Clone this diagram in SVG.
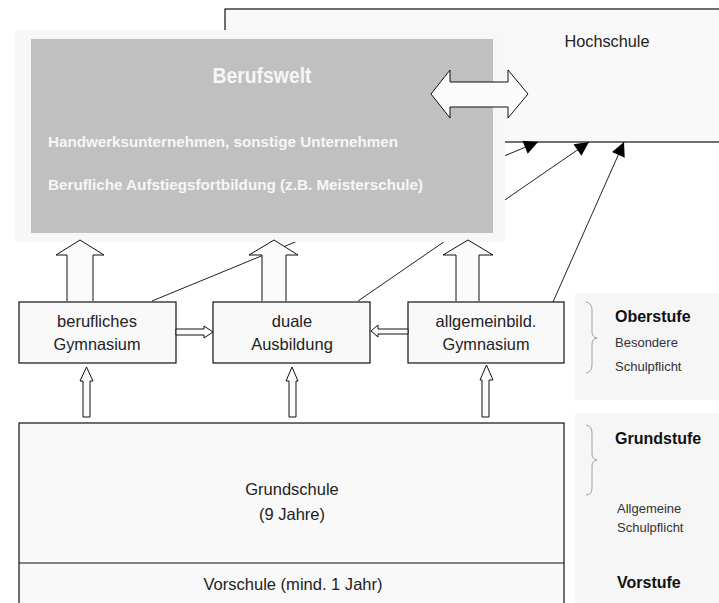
<svg xmlns="http://www.w3.org/2000/svg" width="719" height="603" viewBox="0 0 719 603">
<defs>
<style>
.box{fill:#f9f9f9;stroke:#111;stroke-width:1.2}
.arr{fill:#fbfbfb;stroke:#111;stroke-width:1}
.ln{stroke:#222;stroke-width:1;fill:none}
.t{font-family:"Liberation Sans",Arial,sans-serif;fill:#222}
.w{font-family:"Liberation Sans",Arial,sans-serif;fill:#f6f6f6;font-weight:bold}
.brace{fill:none;stroke:#999;stroke-width:0.9}
.lbl{font-family:"Liberation Sans",Arial,sans-serif;fill:#111;font-weight:bold;font-size:16px}
.sm{font-family:"Liberation Sans",Arial,sans-serif;fill:#333;font-size:13px}
</style>
<marker id="ah" viewBox="0 0 10 10" refX="10" refY="5" markerWidth="15" markerHeight="14" markerUnits="userSpaceOnUse" orient="auto"><path d="M0,0 L10,5 L0,10 z" fill="#000"/></marker>
</defs>
<rect width="719" height="603" fill="#ffffff"/>

<g id="hochschule">
<rect x="225" y="9" width="500" height="133" class="box"/>
<text class="t" x="607" y="47" font-size="16.5" text-anchor="middle" textLength="85" lengthAdjust="spacingAndGlyphs">Hochschule</text>
</g>

<g id="connectors">
<line class="ln" x1="152" y1="301" x2="538" y2="142" marker-end="url(#ah)"/>
<line class="ln" x1="358" y1="301" x2="589" y2="142" marker-end="url(#ah)"/>
<line class="ln" x1="553" y1="302" x2="624" y2="142" marker-end="url(#ah)"/>
</g>

<g id="berufswelt">
<rect x="15" y="30" width="490" height="212" fill="#f7f7f7"/>
<rect x="31" y="39" width="462" height="194" fill="#c0c0c0"/>
<text class="w" x="262" y="83" font-size="22" text-anchor="middle" textLength="99" lengthAdjust="spacingAndGlyphs">Berufswelt</text>
<text class="w" x="48" y="147" font-size="15.5" textLength="350" lengthAdjust="spacingAndGlyphs">Handwerksunternehmen, sonstige Unternehmen</text>
<text class="w" x="48" y="190" font-size="15.5" textLength="375" lengthAdjust="spacingAndGlyphs">Berufliche Aufstiegsfortbildung (z.B. Meisterschule)</text>
</g>

<g id="doppelpfeil">
<path class="arr" d="M431,94 L450,70 L450,82 L508,82 L508,70 L528,94 L508,118 L508,107 L450,107 L450,118 Z"/>
</g>

<g id="pfeile-oben">
<path class="arr" d="M67,301 L67,255 L56,255 L80,240 L104,255 L93,255 L93,301"/>
<path class="arr" d="M262,301 L262,255 L249,255 L274,240 L298,255 L286,255 L286,301"/>
<path class="arr" d="M456,301 L456,255 L443,255 L468,240 L493,255 L479,255 L479,301"/>
</g>

<g id="berufliches-gymnasium">
<rect x="19" y="302" width="157" height="61" class="box"/>
<text class="t" x="97" y="327" font-size="16.5" text-anchor="middle">berufliches</text>
<text class="t" x="97" y="350" font-size="16.5" text-anchor="middle" textLength="87" lengthAdjust="spacingAndGlyphs">Gymnasium</text>
</g>

<g id="duale-ausbildung">
<rect x="213" y="302" width="157" height="61" class="box"/>
<text class="t" x="292" y="327" font-size="16.5" text-anchor="middle">duale</text>
<text class="t" x="292" y="350" font-size="16.5" text-anchor="middle">Ausbildung</text>
</g>

<g id="allgemeinbild-gymnasium">
<rect x="408" y="302" width="156" height="61" class="box"/>
<text class="t" x="486" y="327" font-size="16.5" text-anchor="middle">allgemeinbild.</text>
<text class="t" x="486" y="350" font-size="16.5" text-anchor="middle" textLength="87" lengthAdjust="spacingAndGlyphs">Gymnasium</text>
</g>

<g id="pfeile-horizontal">
<path class="arr" d="M176,329 L204,329 L204,326 L213,332 L204,338 L204,335 L176,335 Z"/>
<path class="arr" d="M408,329 L378,329 L378,325 L371,331 L378,337 L378,334 L408,334 Z"/>
</g>

<g id="pfeile-unten">
<path class="arr" d="M83,417 L83,381 L80,381 L86.5,367 L93,381 L90,381 L90,417 Z"/>
<path class="arr" d="M289,417 L289,381 L286,381 L292,367 L298,381 L296,381 L296,417 Z"/>
<path class="arr" d="M482,417 L482,380 L480,380 L486.5,365 L493,380 L489,380 L489,417 Z"/>
</g>

<g id="grundschule">
<rect x="19" y="423" width="545" height="190" class="box"/>
<line x1="19" y1="563" x2="564" y2="563" stroke="#111" stroke-width="1.2"/>
<text class="t" x="292" y="495" font-size="16.5" text-anchor="middle">Grundschule</text>
<text class="t" x="292" y="520" font-size="16.5" text-anchor="middle">(9 Jahre)</text>
</g>

<g id="vorschule">
<text class="t" x="293" y="590" font-size="16.5" text-anchor="middle" textLength="179" lengthAdjust="spacingAndGlyphs">Vorschule (mind. 1 Jahr)</text>
</g>

<g id="legende">
<rect x="575" y="293" width="144" height="107" fill="#f6f6f6"/>
<rect x="575" y="413" width="144" height="190" fill="#f6f6f6"/>
<path class="brace" d="M586,302 Q592,303 592,310 L592,332 Q592,337 597,338 Q592,339 592,344 L592,365 Q592,372 586,373"/>
<path class="brace" d="M586,425 Q592,426 592,433 L592,454 Q592,459 597,460 Q592,461 592,466 L592,488 Q592,495 586,495"/>
<text class="lbl" x="615" y="322">Oberstufe</text>
<text class="sm" x="615" y="347">Besondere</text>
<text class="sm" x="615" y="371">Schulpflicht</text>
<text class="lbl" x="615" y="444">Grundstufe</text>
<text class="sm" x="617" y="513" font-size="12.5">Allgemeine</text>
<text class="sm" x="617" y="532" font-size="12.5">Schulpflicht</text>
<text class="lbl" x="617" y="588">Vorstufe</text>
</g>
</svg>
